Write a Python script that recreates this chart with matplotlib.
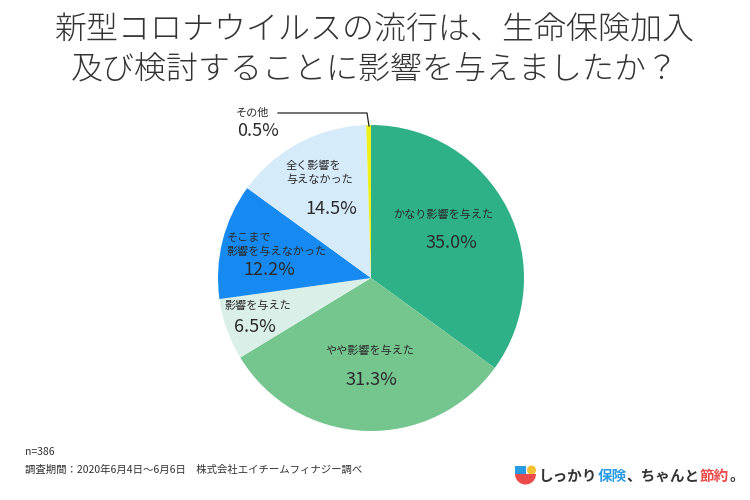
import matplotlib
matplotlib.use("Agg")
import matplotlib.pyplot as plt
from matplotlib.patches import Rectangle, Circle, Wedge

plt.rcParams['font.family'] = ['Noto Sans CJK JP', 'DejaVu Sans']

# data
labels = ['かなり影響を与えた', 'やや影響を与えた', '影響を与えた',
          'そこまで\n影響を与えなかった', '全く影響を\n与えなかった', 'その他']
values = [35.0, 31.3, 6.5, 12.2, 14.5, 0.5]
colors = ['#2eb189', '#74c58e', '#d9efe7', '#168af0', '#d5ebfa', '#eef01c']

title = '新型コロナウイルスの流行は、生命保険加入\n及び検討することに影響を与えましたか？'
note_n = 'n=386'
note_src = '調査期間：2020年6月4日～6月6日　株式会社エイチームフィナジー調べ'

W, H = 750, 500
fig = plt.figure(figsize=(7.5, 5), dpi=100)


def fx(px):
    return px / W


def fy(py):
    return 1 - py / H


# pie axes: centre (371, 278) px, radius 153 px
cx, cy, r = 371, 278, 153
ax = fig.add_axes([fx(cx - r), fy(cy + r), 2 * r / W, 2 * r / H])
ax.pie(values, colors=colors, startangle=90, counterclock=False,
       radius=1, wedgeprops=dict(linewidth=0))
ax.set_xlim(-1, 1)
ax.set_ylim(-1, 1)
ax.axis('off')


def d(px, py):
    # pixel -> pie data coords
    return ((px - cx) / r, (cy - py) / r)


txt = '#2b2b2b'
small = 8
big = 13

ax.text(*d(443, 215), labels[0], ha='center', va='center', fontsize=small, color=txt)
ax.text(*d(451, 243), f'{values[0]:.1f}%', ha='center', va='center', fontsize=big, color=txt)

ax.text(*d(370, 351), labels[1], ha='center', va='center', fontsize=small, color=txt)
ax.text(*d(371, 380), f'{values[1]:.1f}%', ha='center', va='center', fontsize=big, color=txt)

ax.text(*d(225, 306), labels[2], ha='left', va='center', fontsize=small, color=txt)
ax.text(*d(255, 327), f'{values[2]:.1f}%', ha='center', va='center', fontsize=big, color=txt)

ax.text(*d(227, 245), labels[3], ha='left', va='center', fontsize=small, color=txt,
        linespacing=1.45)
ax.text(*d(269, 270), f'{values[3]:.1f}%', ha='center', va='center', fontsize=big, color=txt)

ax.text(*d(286, 173), labels[4], ha='left', va='center', fontsize=small, color=txt,
        linespacing=1.45)
ax.text(*d(331, 209), f'{values[4]:.1f}%', ha='center', va='center', fontsize=big, color=txt)

ax.text(*d(236, 113), labels[5], ha='left', va='center', fontsize=small, color=txt)
ax.text(*d(258, 131), f'{values[5]:.1f}%', ha='center', va='center', fontsize=big, color=txt)
lx, ly = zip(d(278, 113), d(367, 113), d(369, 126))
ax.plot(lx, ly, color='#222222', lw=0.9, clip_on=False)

# title
fig.text(0.5, fy(50), title, ha='center', va='center', fontsize=23,
         color='#333333', fontweight='light', linespacing=1.22)

# notes
fig.text(fx(25), fy(452), note_n, ha='left', va='center', fontsize=7.5, color='#333333')
fig.text(fx(25), fy(470), note_src, ha='left', va='center', fontsize=7.5, color='#333333')

# logo
lax = fig.add_axes([0, 0, 1, 1])
lax.set_xlim(0, W)
lax.set_ylim(H, 0)
lax.axis('off')
lax.add_patch(Rectangle((515, 466), 11, 8, color='#2a9be3', lw=0))
lax.add_patch(Circle((531.5, 470), 4.5, color='#f3c232', lw=0))
lax.add_patch(Wedge((525.5, 474), 10.5, 0, 180, color='#eb4a4a', lw=0))

# coloured pieces placed one after another
parts = [('しっかり', '#333333'), ('保険', '#2a9be3'), ('、ちゃんと', '#333333'),
         ('節約', '#eb4a4a'), ('。', '#333333')]
renderer = fig.canvas.get_renderer()
x = fx(539)
for s, c in parts:
    t = fig.text(x, fy(476), s, ha='left', va='center', fontsize=10.5,
                 fontweight='bold', color=c)
    bb = t.get_window_extent(renderer)
    x = bb.x1 / W

fig.savefig('out.png', dpi=100, facecolor='white')
